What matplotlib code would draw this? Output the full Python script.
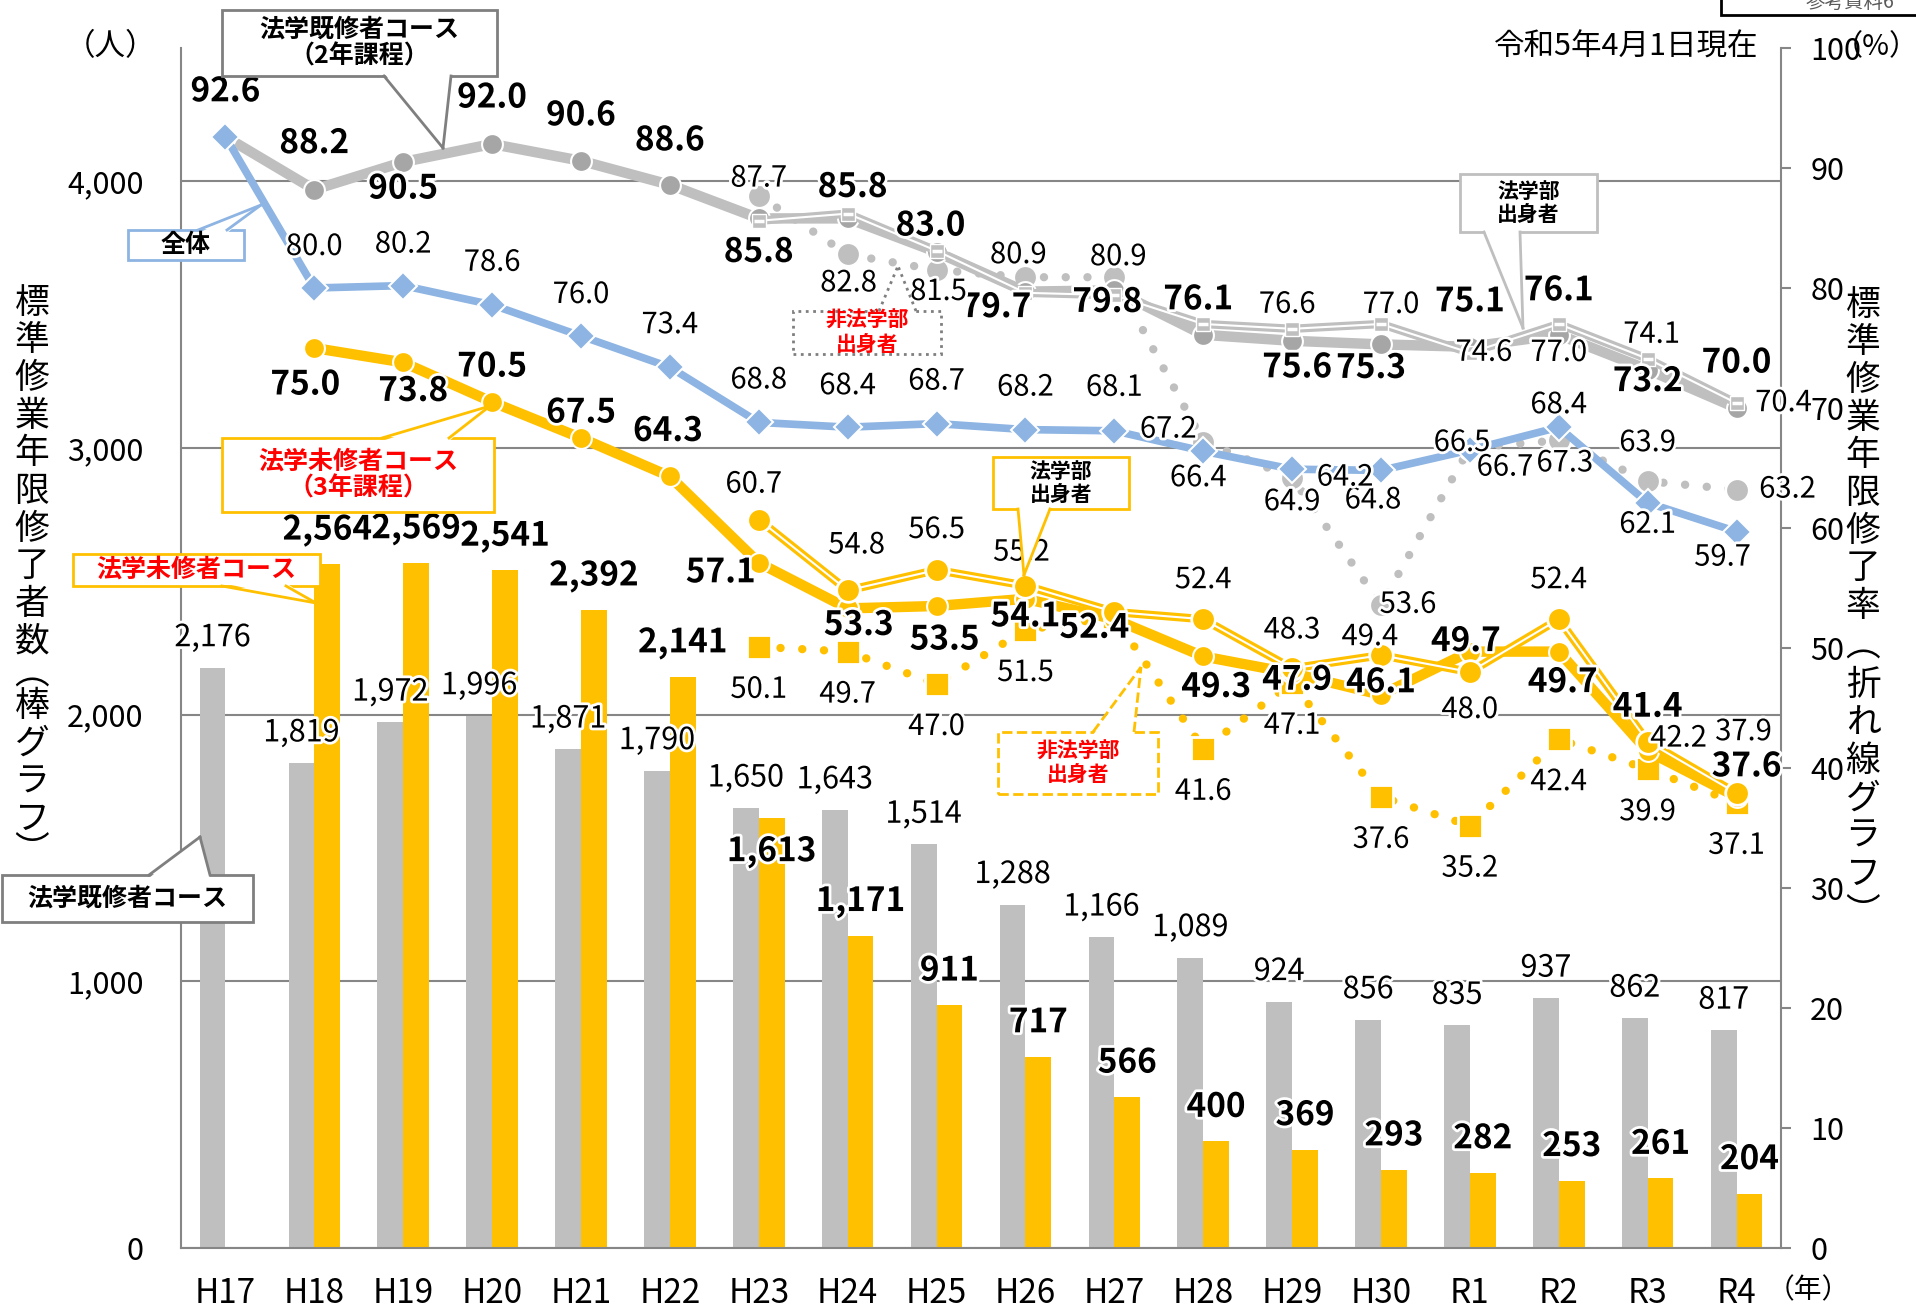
import numpy as np
import matplotlib.pyplot as plt
import matplotlib.patheffects as pe
from matplotlib.patches import Rectangle, Polygon
from matplotlib.lines import Line2D
from matplotlib.ticker import FuncFormatter

plt.rcParams['font.family'] = ['Noto Sans CJK JP', 'DejaVu Sans']

nan = np.nan
years = ['H17', 'H18', 'H19', 'H20', 'H21', 'H22', 'H23', 'H24', 'H25',
         'H26', 'H27', 'H28', 'H29', 'H30', 'R1', 'R2', 'R3', 'R4']

# completers (bars)
kishu_count = [2176, 1819, 1972, 1996, 1871, 1790, 1650, 1643, 1514,
               1288, 1166, 1089, 924, 856, 835, 937, 862, 817]
mishu_count = [nan, 2564, 2569, 2541, 2392, 2141, 1613, 1171, 911,
               717, 566, 400, 369, 293, 282, 253, 261, 204]

# completion rates (lines, %)
total_rate = [92.6, 80.0, 80.2, 78.6, 76.0, 73.4, 68.8, 68.4, 68.7,
              68.2, 68.1, 66.4, 64.9, 64.8, 66.5, 68.4, 62.1, 59.7]
kishu_rate = [92.6, 88.2, 90.5, 92.0, 90.6, 88.6, 85.8, 85.8, 83.0,
              79.7, 79.8, 76.1, 75.6, 75.3, 75.1, 76.1, 73.2, 70.0]
kishu_law = [nan] * 6 + [85.6, 86.2, 83.1, 79.6, 79.4, 77.0, 76.6, 77.0,
                         74.6, 77.0, 74.1, 70.4]
kishu_nonlaw = [nan] * 6 + [87.7, 82.8, 81.5, 80.9, 80.9, 67.2, 64.2, 53.6,
                            66.7, 67.3, 63.9, 63.2]
mishu_rate = [nan, 75.0, 73.8, 70.5, 67.5, 64.3, 57.1, 53.3, 53.5,
              54.1, 52.4, 49.3, 47.9, 46.1, 49.7, 49.7, 41.4, 37.6]
mishu_law = [nan] * 6 + [60.7, 54.8, 56.5, 55.2, 53.0, 52.4, 48.3, 49.4,
                         48.0, 52.4, 42.2, 37.9]
mishu_nonlaw = [nan] * 6 + [50.1, 49.7, 47.0, 51.5, 52.6, 41.6, 47.1, 37.6,
                            35.2, 42.4, 39.9, 37.1]

# label offsets in pixels (dx, dy up); None = no label
total_off = [None, (0, 41), (0, 41), (0, 42), (0, 41), (0, 42), (0, 42), (0, 41), (0, 42),
             (0, 42), (0, 43), (-5, -27), (0, -33), (-8, -30), (-8, 7), (0, 22), (0, -22), (-14, -26)]
kishu_off = [(0, 45), (0, 46), (0, -27), (0, 46), (0, 45), (0, 44), (0, -34), (5, 31), (-6, 26),
             (-29, -16), (-7, -12), (-5, 35), (5, -27), (-10, -24), (0, 45), (0, 44), (0, -12), (0, 45)]
kishu_law_off = [None] * 12 + [(-5, 24), (10, 19), (14, 0), (0, -29), (4, 24), (47, 0)]
kishu_nonlaw_off = [None] * 6 + [(0, 17), (1, -29), (2, -22), (-7, 22), (4, 20), (-35, 12),
                                 (53, 0), (27, 0), (35, -20), (6, -23), (0, 38), (51, 0)]
mishu_off = [None, (-9, -37), (10, -29), (0, 35), (0, 25), (-2, 45), (-38, -10), (11, -17), (8, -34),
             (0, -18), (-20, -9), (13, -31), (5, -7), (0, 12), (-4, 10), (4, -31), (0, 44), (10, 30)]
mishu_law_off = [None] * 6 + [(-5, 35), (9, 45), (0, 40), (-4, 33), None, (0, 39),
                              (0, 38), (-11, 18), (0, -38), (0, 39), (31, 3), (7, 61)]
mishu_nonlaw_off = [None] * 6 + [(0, -43)] * 4 + [None] + [(0, -43)] * 7
mishu_bar_dy = [None, 34, 34, 34, 34, 34, -34, 34, 34, 34, 34, 34, 34, 34, 34, 34, 34, 34]

W, H = 1916, 1312
GREY = '#BFBFBF'
DARK_GREY = '#A6A6A6'
YELLOW = '#FFC000'
BLUE = '#8DB4E2'
AXIS = '#868686'

fig = plt.figure(figsize=(W / 100, H / 100), dpi=100)
ax = fig.add_axes([181 / W, 64 / H, 1600 / W, 1200 / H])
ax2 = ax.twinx()

x = np.arange(len(years))
bw = 0.29
ax.bar(x - bw / 2, kishu_count, bw, color=GREY, zorder=2)
ax.bar(x + bw / 2, mishu_count, bw, color=YELLOW, zorder=2)
ax.set_xlim(-0.5, len(years) - 0.5)
ax.set_ylim(0, 4500)
ax.set_yticks([0, 1000, 2000, 3000, 4000])
ax.yaxis.set_major_formatter(FuncFormatter(lambda v, p: f'{v:,.0f}'))
ax.set_xticks(x)
ax.set_xticklabels(years)
ax.yaxis.grid(True, color=AXIS, lw=1.5)
ax.set_axisbelow(True)
ax.tick_params(axis='y', length=0, pad=27, labelsize=22)
ax.tick_params(axis='x', length=0, pad=20, labelsize=24)
for s in ['top', 'right']:
    ax.spines[s].set_visible(False)
for s in ['left', 'bottom']:
    ax.spines[s].set_color(AXIS)
    ax.spines[s].set_linewidth(1.5)

halo = [pe.withStroke(linewidth=4, foreground='white')]

for i, v in enumerate(kishu_count):
    ax.annotate(f'{v:,}', (x[i] - bw / 2, v), xytext=(0, 30), textcoords='offset pixels',
                ha='center', va='center', fontsize=22, path_effects=halo, zorder=5)
for i, v in enumerate(mishu_count):
    if np.isnan(v):
        continue
    ax.annotate(f'{int(v):,}', (x[i] + bw / 2, v), xytext=(0, mishu_bar_dy[i]),
                textcoords='offset pixels', ha='center', va='center', fontsize=24,
                fontweight='bold', path_effects=halo, zorder=5)

ax2.set_ylim(0, 100)
ax2.set_yticks(range(0, 101, 10))
ax2.tick_params(axis='y', direction='out', length=7, width=1.5, color=AXIS, pad=14, labelsize=22)
for s in ['top', 'left', 'bottom']:
    ax2.spines[s].set_visible(False)
ax2.spines['right'].set_color(AXIS)
ax2.spines['right'].set_linewidth(1.5)

dotted = (0, (0.01, 2.6))

# non-law (dotted)
ax2.plot(x, kishu_nonlaw, color=GREY, lw=6, ls=dotted, dash_capstyle='round', zorder=2)
ax2.plot(x, kishu_nonlaw, ls='none', marker='o', ms=17, mfc=GREY, mec='white', mew=2, zorder=3)
ax2.plot(x, mishu_nonlaw, color=YELLOW, lw=6, ls=dotted, dash_capstyle='round', zorder=2)
ax2.plot(x, mishu_nonlaw, ls='none', marker='s', ms=17, mfc=YELLOW, mec='white', mew=2, zorder=3)

# overall lines
ax2.plot(x, kishu_rate, color=GREY, lw=7.5, zorder=4)
ax2.plot(x, kishu_rate, ls='none', marker='o', ms=15, mfc=DARK_GREY, mec='white', mew=1.5, zorder=5)
ax2.plot(x, mishu_rate, color=YELLOW, lw=7.5, zorder=4)
ax2.plot(x, mishu_rate, ls='none', marker='o', ms=15, mfc=YELLOW, mec='white', mew=1.5, zorder=5)

# law-faculty (double lines)
ax2.plot(x, kishu_law, color=GREY, lw=6, zorder=6)
ax2.plot(x, kishu_law, color='white', lw=1.5, zorder=6)
ax2.plot(x, kishu_law, ls='none', marker='s', ms=10, mfc=GREY, mec='white', mew=1, zorder=7)
ax2.plot(x, kishu_law, ls='none', marker='_', ms=7, mec='white', mew=2.5, zorder=7)
ax2.plot(x, mishu_law, color=YELLOW, lw=6, zorder=6)
ax2.plot(x, mishu_law, color='white', lw=1.5, zorder=6)
ax2.plot(x, mishu_law, ls='none', marker='o', ms=17, mfc=YELLOW, mec='white', mew=2, zorder=7)

# total
ax2.plot(x, total_rate, color=BLUE, lw=5.5, zorder=8)
ax2.plot(x, total_rate, ls='none', marker='D', ms=14, mfc=BLUE, mec='white', mew=1.5, zorder=9)


def label_series(vals, offs, bold):
    for i, (v, o) in enumerate(zip(vals, offs)):
        if o is None or np.isnan(v):
            continue
        ax2.annotate(f'{v:.1f}', (x[i], v), xytext=o, textcoords='offset pixels',
                     ha='center', va='center', fontsize=24 if bold else 21,
                     fontweight='bold' if bold else 'normal', path_effects=halo, zorder=20)


label_series(total_rate, total_off, False)
label_series(kishu_rate, kishu_off, True)
label_series(kishu_law, kishu_law_off, False)
label_series(kishu_nonlaw, kishu_nonlaw_off, False)
label_series(mishu_rate, mishu_off, True)
label_series(mishu_law, mishu_law_off, False)
label_series(mishu_nonlaw, mishu_nonlaw_off, False)


def fx(px):
    return px / W


def fy(py):
    return 1 - py / H


def callout(x0, y0, x1, y1, side, base, tip, text, ec, tc, fs, ls='-'):
    fig.add_artist(Rectangle((fx(x0), fy(y1)), (x1 - x0) / W, (y1 - y0) / H,
                             transform=fig.transFigure, fc='white', ec=ec, lw=2, ls=ls, zorder=10))
    ey = y1 if side == 'bottom' else y0
    inner = -3 if side == 'bottom' else 3
    fig.add_artist(Polygon([(fx(base[0]), fy(ey + inner)), (fx(tip[0]), fy(tip[1])),
                            (fx(base[1]), fy(ey + inner))], closed=True,
                           transform=fig.transFigure, fc='white', ec='none', zorder=11))
    for bx in base:
        fig.add_artist(Line2D([fx(bx), fx(tip[0])], [fy(ey), fy(tip[1])],
                              transform=fig.transFigure, color=ec, lw=2, ls=ls, zorder=12))
    fig.text(fx((x0 + x1) / 2), fy((y0 + y1) / 2), text, ha='center', va='center',
             color=tc, fontsize=fs, fontweight='bold', linespacing=1.15, zorder=13)


callout(222, 10, 497, 76, 'bottom', (384, 451), (443, 148),
        '法学既修者コース\n（2年課程）', '#7F7F7F', 'black', 18)
callout(128, 230, 244, 260, 'top', (198, 227), (261, 205), '全体', BLUE, 'black', 18)
callout(222, 438, 494, 512, 'top', (382, 449), (490, 406),
        '法学未修者コース\n（3年課程）', YELLOW, 'red', 18)
callout(73, 554, 320, 586, 'bottom', (222, 286), (316, 603), '法学未修者コース', YELLOW, 'red', 18)
callout(2, 875, 253, 922, 'top', (149, 210), (200, 837), '法学既修者コース', '#7F7F7F', 'black', 18)
callout(793, 311, 941, 354, 'top', (879, 916), (898, 266), '非法学部\n出身者', '#7F7F7F', 'red', 15, ':')
callout(1460, 174, 1597, 232, 'bottom', (1484, 1520), (1523, 328), '法学部\n出身者', GREY, 'black', 15)
callout(993, 457, 1129, 509, 'bottom', (1018, 1050), (1024, 575), '法学部\n出身者', YELLOW, 'black', 15)
callout(998, 732, 1158, 794, 'top', (1093, 1134), (1141, 667), '非法学部\n出身者', YELLOW, 'red', 15, '--')

# corner box (cut off at top)
fig.add_artist(Rectangle((fx(1721), fy(15)), 220 / W, 40 / H, transform=fig.transFigure,
                         fc='white', ec='black', lw=2, zorder=10))
fig.text(fx(1850), fy(2), '参考資料6', ha='center', va='center', fontsize=14,
         color='#595959', zorder=11)

fig.text(fx(111), fy(47), '（人）', ha='center', va='center', fontsize=22)
fig.text(fx(1758), fy(47), '令和5年4月1日現在', ha='right', va='center', fontsize=22)
fig.text(fx(1834), fy(47), '（%）', ha='left', va='center', fontsize=21)
fig.text(fx(1808), fy(1290), '（年）', ha='center', va='center', fontsize=20)


def vertical_label(xc, y_start, chars, bracket_w, step=37.7):
    y = y_start
    prev = None
    for ch in chars:
        w = bracket_w if ch in '︵︶' else 1.0
        if prev is not None:
            y += step * (prev + w) / 2
        fig.text(fx(xc), fy(y), ch, ha='center', va='center', fontsize=25)
        prev = w


vertical_label(32, 303, '標準修業年限修了者数︵棒グラフ︶', 0.7)
vertical_label(1863, 305, '標準修業年限修了率︵折れ線グラフ︶', 1.1)

fig.savefig('out.png', dpi=100)
